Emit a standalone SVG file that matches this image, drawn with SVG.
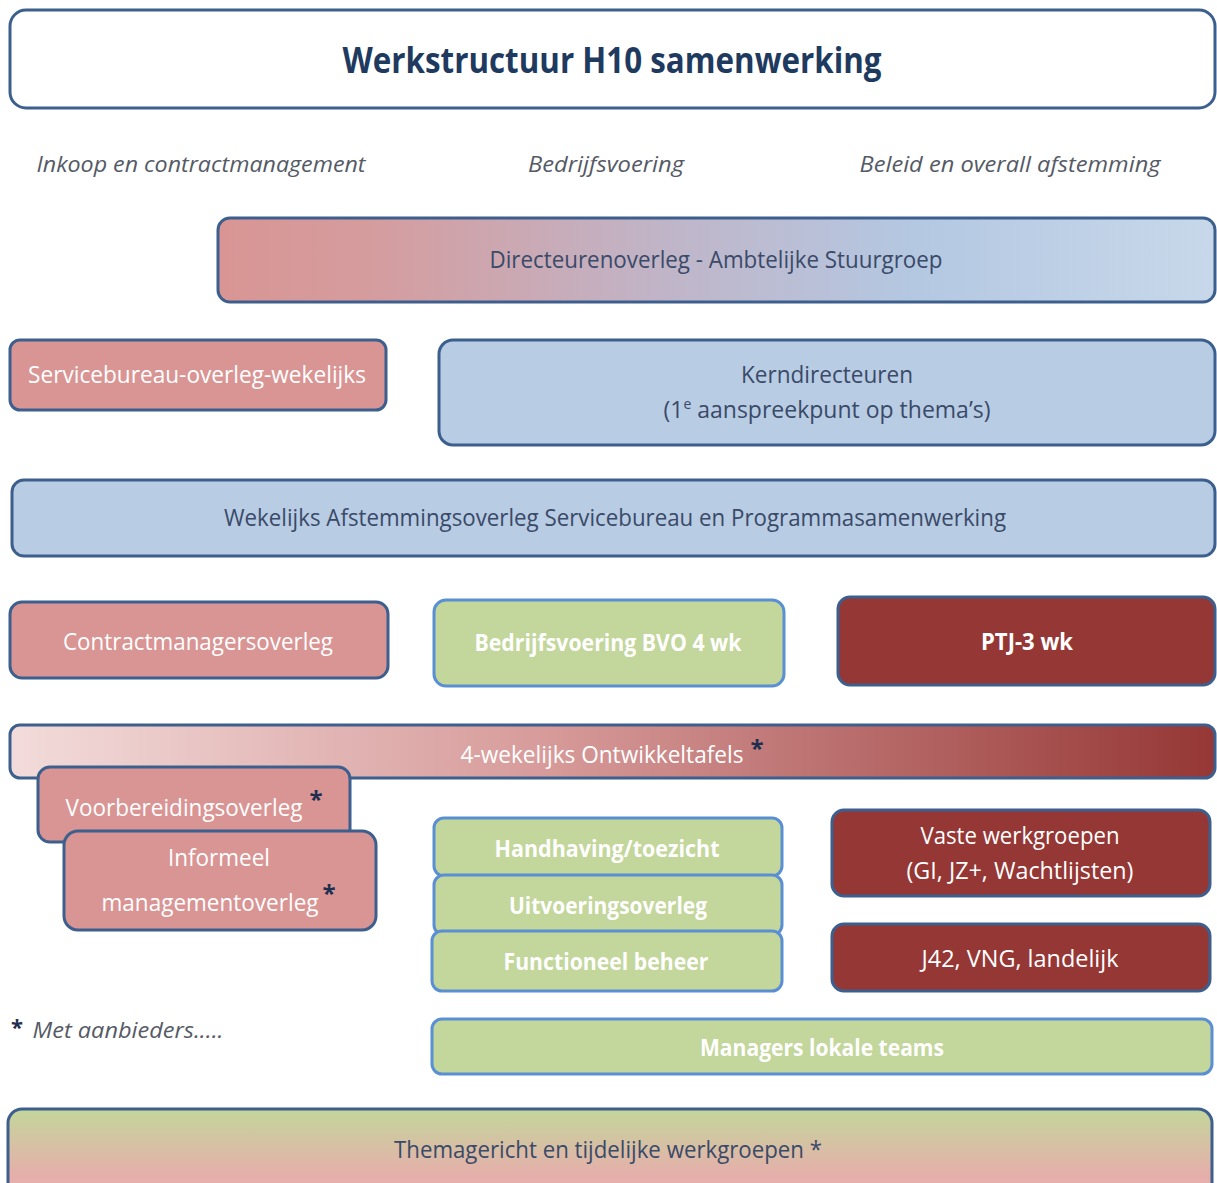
<svg xmlns="http://www.w3.org/2000/svg" width="1217" height="1183" viewBox="0 0 1217 1183">
<defs>
<linearGradient id="gDir" x1="0" y1="0" x2="1" y2="0">
<stop offset="0" stop-color="#d99594"/>
<stop offset="0.15" stop-color="#d59c9e"/>
<stop offset="0.45" stop-color="#c0b5c8"/>
<stop offset="0.7" stop-color="#b4c8e2"/>
<stop offset="1" stop-color="#c8d8ea"/>
</linearGradient>
<linearGradient id="gOnt" x1="0" y1="0" x2="1" y2="0">
<stop offset="0" stop-color="#f2dcdb"/>
<stop offset="0.45" stop-color="#d69a99"/>
<stop offset="1" stop-color="#953735"/>
</linearGradient>
<linearGradient id="gThema" x1="0" y1="0" x2="0" y2="1">
<stop offset="0" stop-color="#c3d69b"/>
<stop offset="0.75" stop-color="#e6aeab"/>
<stop offset="1" stop-color="#e9b4b2"/>
</linearGradient>
</defs>
<style>
.box{stroke:#3c5f8e;stroke-width:3}
.gbox{fill:#c3d69b;stroke:#5a8fd4;stroke-width:3}
.pink{fill:#d99594}
.blue{fill:#b8cce4}
.red{fill:#953735}
text{font-family:"Open Sans","Liberation Sans",sans-serif;font-size:23px;text-anchor:middle}
.w{fill:#ffffff}
.wb{fill:#ffffff;font-weight:bold}
.d{fill:#3a4a68}
.hdr{fill:#555a66;font-style:italic;font-size:22px}
.star{fill:#1f2f4f;font-size:24px;font-weight:bold}
</style>
<rect width="1217" height="1183" fill="#ffffff"/>

<g id="title">
<rect x="10" y="10" width="1205" height="98" rx="16" fill="#ffffff" class="box"/>
<text x="612" y="73" font-weight="bold" fill="#1f3a5f" textLength="539" lengthAdjust="spacingAndGlyphs" style="font-size:36px">Werkstructuur H10 samenwerking</text>
</g>

<g id="headers">
<text class="hdr" x="201" y="172" textLength="329" lengthAdjust="spacingAndGlyphs">Inkoop en contractmanagement</text>
<text class="hdr" x="606" y="172" textLength="156" lengthAdjust="spacingAndGlyphs">Bedrijfsvoering</text>
<text class="hdr" x="1010" y="172" textLength="301" lengthAdjust="spacingAndGlyphs">Beleid en overall afstemming</text>
</g>

<g id="directeurenoverleg">
<rect x="218" y="218" width="997" height="84" rx="12" fill="url(#gDir)" class="box"/>
<text class="d" x="716" y="268" textLength="453" lengthAdjust="spacingAndGlyphs">Directeurenoverleg - Ambtelijke Stuurgroep</text>
</g>

<g id="servicebureau">
<rect x="10" y="340" width="376" height="70" rx="10" class="box pink"/>
<text class="w" x="197" y="383" textLength="338" lengthAdjust="spacingAndGlyphs">Servicebureau-overleg-wekelijks</text>
</g>

<g id="kerndirecteuren">
<rect x="439" y="340" width="776" height="105" rx="14" class="box blue"/>
<text class="d" x="827" y="383" textLength="172" lengthAdjust="spacingAndGlyphs">Kerndirecteuren</text>
<text class="d" x="827" y="418">(1<tspan font-size="14" dy="-9">e</tspan><tspan dy="9"> aanspreekpunt op thema’s)</tspan></text>
</g>

<g id="wekelijks">
<rect x="12" y="480" width="1203" height="76" rx="12" class="box blue"/>
<text class="d" x="615" y="526" textLength="782" lengthAdjust="spacingAndGlyphs">Wekelijks Afstemmingsoverleg Servicebureau en Programmasamenwerking</text>
</g>

<g id="contractmanagersoverleg">
<rect x="10" y="602" width="378" height="76" rx="12" class="box pink"/>
<text class="w" x="198" y="650" textLength="270" lengthAdjust="spacingAndGlyphs">Contractmanagersoverleg</text>
</g>

<g id="bvo">
<rect x="434" y="600" width="350" height="86" rx="12" class="gbox"/>
<text class="wb" x="608" y="651" textLength="267" lengthAdjust="spacingAndGlyphs">Bedrijfsvoering BVO 4 wk</text>
</g>

<g id="ptj">
<rect x="838" y="597" width="377" height="88" rx="12" class="box red"/>
<text class="wb" x="1027" y="650" textLength="92" lengthAdjust="spacingAndGlyphs">PTJ-3 wk</text>
</g>

<g id="ontwikkeltafels">
<rect x="10" y="725" width="1205" height="53" rx="10" fill="url(#gOnt)" class="box"/>
<text class="w" x="602" y="763" textLength="283" lengthAdjust="spacingAndGlyphs">4-wekelijks Ontwikkeltafels</text>
<text class="star" x="757" y="757">*</text>
</g>

<g id="voorbereidingsoverleg">
<rect x="38" y="767" width="312" height="75" rx="12" class="box pink"/>
<text class="w" x="184" y="816" textLength="237" lengthAdjust="spacingAndGlyphs">Voorbereidingsoverleg</text>
<text class="star" x="316" y="808">*</text>
</g>

<g id="informeel">
<rect x="64" y="831" width="312" height="99" rx="14" class="box pink"/>
<text class="w" x="219" y="866" textLength="102" lengthAdjust="spacingAndGlyphs">Informeel</text>
<text class="w" x="210" y="911" textLength="217" lengthAdjust="spacingAndGlyphs">managementoverleg</text>
<text class="star" x="329" y="902">*</text>
</g>

<g id="handhaving">
<rect x="434" y="818" width="348" height="58" rx="10" class="gbox"/>
<text class="wb" x="607" y="857" textLength="225" lengthAdjust="spacingAndGlyphs">Handhaving/toezicht</text>
</g>

<g id="uitvoeringsoverleg">
<rect x="434" y="875" width="348" height="60" rx="10" class="gbox"/>
<text class="wb" x="608" y="914" textLength="198" lengthAdjust="spacingAndGlyphs">Uitvoeringsoverleg</text>
</g>

<g id="functioneelbeheer">
<rect x="432" y="931" width="350" height="60" rx="10" class="gbox"/>
<text class="wb" x="606" y="970" textLength="205" lengthAdjust="spacingAndGlyphs">Functioneel beheer</text>
</g>

<g id="vastewerkgroepen">
<rect x="832" y="810" width="378" height="86" rx="12" class="box red"/>
<text class="w" x="1020" y="844" textLength="199" lengthAdjust="spacingAndGlyphs">Vaste werkgroepen</text>
<text class="w" x="1020" y="879" textLength="227" lengthAdjust="spacingAndGlyphs">(GI, JZ+, Wachtlijsten)</text>
</g>

<g id="j42">
<rect x="832" y="924" width="378" height="67" rx="12" class="box red"/>
<text class="w" x="1020" y="967" textLength="197" lengthAdjust="spacingAndGlyphs">J42, VNG, landelijk</text>
</g>

<g id="footnote">
<text class="star" x="17" y="1035" style="font-size:22px">*</text>
<text class="hdr" x="128" y="1038" textLength="191" lengthAdjust="spacingAndGlyphs" style="font-size:21px">Met aanbieders.....</text>
</g>

<g id="managers">
<rect x="432" y="1019" width="780" height="55" rx="10" class="gbox"/>
<text class="wb" x="822" y="1056" textLength="244" lengthAdjust="spacingAndGlyphs">Managers lokale teams</text>
</g>

<g id="themagericht">
<rect x="8" y="1109" width="1204" height="90" rx="14" fill="url(#gThema)" class="box"/>
<text class="d" x="608" y="1158" textLength="428" lengthAdjust="spacingAndGlyphs">Themagericht en tijdelijke werkgroepen *</text>
</g>

<g id="connectors"></g>
</svg>
